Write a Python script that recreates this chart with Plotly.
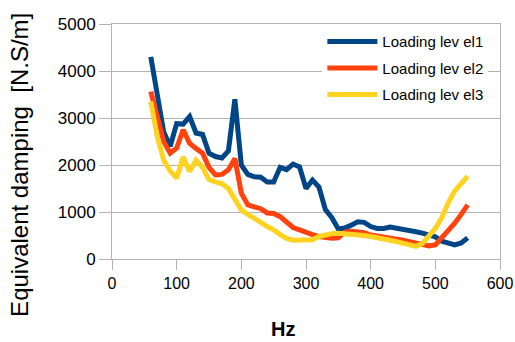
import plotly.graph_objects as go

hz = [60, 70, 80, 90, 100, 110, 120, 130, 140, 150, 160, 170, 180, 190, 200,
      210, 220, 230, 240, 250, 260, 270, 280, 290, 300, 310, 320, 330, 340, 350,
      360, 370, 380, 390, 400, 410, 420, 430, 440, 450, 460, 470, 480, 490, 500,
      510, 520, 530, 540, 550]

level1 = [4300, 3500, 2700, 2400, 2880, 2870, 3030, 2680, 2650, 2250,
          2180, 2150, 2300, 3400, 2000, 1800, 1750, 1740, 1640, 1640,
          1950, 1900, 2020, 1960, 1500, 1680, 1530, 1050, 880, 640,
          660, 720, 790, 780, 690, 650, 650, 680, 660, 640,
          610, 580, 550, 510, 470, 380, 330, 300, 340, 450]

level2 = [3560, 3000, 2500, 2250, 2360, 2750, 2460, 2350, 2250, 1950,
          1790, 1800, 1900, 2140, 1400, 1150, 1100, 1070, 980, 970,
          900, 780, 670, 620, 560, 520, 480, 450, 440, 450,
          570, 590, 580, 560, 510, 490, 470, 460, 440, 400,
          370, 340, 310, 280, 300, 450, 600, 760, 950, 1150]

level3 = [3350, 2600, 2100, 1870, 1720, 2170, 1860, 2100, 1950, 1690,
          1640, 1600, 1500, 1250, 1040, 950, 850, 780, 690, 620,
          520, 440, 400, 400, 420, 410, 480, 520, 540, 550,
          540, 540, 520, 500, 480, 460, 430, 400, 370, 340,
          300, 270, 330, 480, 650, 880, 1200, 1450, 1600, 1760]

names = ["Loading lev el1", "Loading lev el2", "Loading lev el3"]
colors = ["#004586", "#ff420e", "#ffd320"]
x_ticks = [0, 100, 200, 300, 400, 500, 600]
y_ticks = [0, 1000, 2000, 3000, 4000, 5000]

fig = go.Figure()
for i, (ys, nm, col) in enumerate(zip([level1, level2, level3], names, colors)):
    fig.add_trace(go.Scatter(x=hz, y=ys, mode="lines", name=nm,
                             legendgroup=f"g{i}",
                             line=dict(color=col, width=5)))

font = "Liberation Sans, Arial, sans-serif"
fig.update_layout(
    width=515, height=342,
    margin=dict(l=112, r=15, t=24, b=83),
    paper_bgcolor="white", plot_bgcolor="white",
    font=dict(family=font, color="#000000"),
    legend=dict(x=0.97, xanchor="right", y=0.995, yanchor="top",
                bgcolor="white", borderwidth=0,
                font=dict(size=15, family=font), tracegroupgap=4,
                traceorder="grouped", itemwidth=50),
    xaxis=dict(range=[0, 600], tickvals=x_ticks, showgrid=False,
               showline=True, linecolor="#b3b3b3", linewidth=1, mirror=True,
               ticks="outside", ticklen=10, tickcolor="#b3b3b3",
               tickfont=dict(size=16), zeroline=False, automargin=False),
    yaxis=dict(range=[0, 5000], tickvals=y_ticks, showgrid=True,
               gridcolor="#b3b3b3", gridwidth=1,
               showline=True, linecolor="#b3b3b3", linewidth=1, mirror=True,
               ticks="outside", ticklen=12, tickcolor="#b3b3b3",
               tickfont=dict(size=17), zeroline=False, automargin=False),
    showlegend=True,
    annotations=[
        dict(text="Equivalent damping&nbsp; [N.S/m]", xref="paper", yref="paper",
             x=-0.24, y=0.40, xanchor="center", yanchor="middle",
             showarrow=False, textangle=-90, font=dict(size=24)),
        dict(text="<b>Hz</b>", xref="paper", yref="paper",
             x=0.44, y=-0.298, xanchor="center", yanchor="middle",
             showarrow=False, font=dict(size=20)),
    ],
)

fig.write_html("out.html", config={"displayModeBar": False},
               post_script="document.body.style.margin='0';document.body.style.padding='0';")
